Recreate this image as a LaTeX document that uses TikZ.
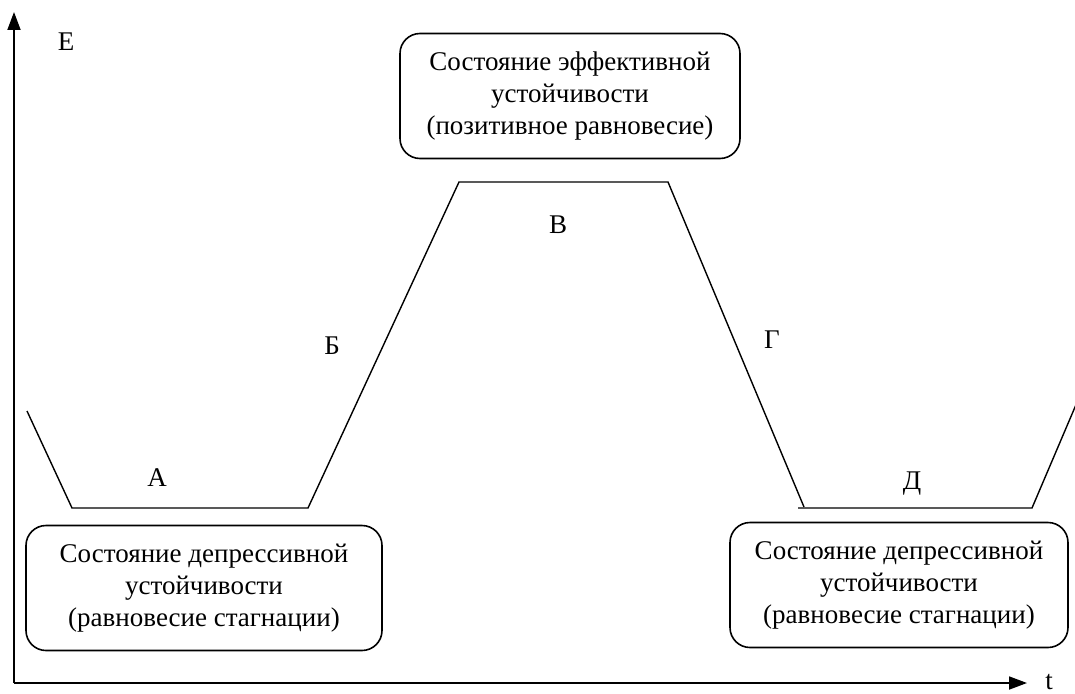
\documentclass[tikz,border=0pt]{standalone}
\usepackage{fontspec}
\setmainfont{Liberation Serif}
\usepackage{tikz}
\usetikzlibrary{
        arrows.meta,
        positioning,
        shapes
    }
\tikzset{>={Triangle[length=18pt,width=13pt]}}
\tikzset{statebox/.style={draw,line width=1.6pt,rounded corners=20pt,align=center,
        minimum height=125pt,inner sep=2pt,font=\fontsize{27}{32}\selectfont}}
\tikzset{lbl/.style={font=\fontsize{27}{30}\selectfont}}

\begin{document}
\begin{tikzpicture}[x=1pt,y=-1pt]
                \useasboundingbox (0,0) rectangle (1075,693);
                % axes
                \coordinate (o) at (14,683);
                \coordinate (ytop) at (14,12);
                \coordinate (xend) at (1027,683);
                \draw[->,line width=1.8pt] (o) -- (ytop);
                \draw[->,line width=1.8pt] (o) -- (xend);
                \node[lbl] (E) at (66,42) {E};
                \node[lbl,anchor=base,inner sep=0pt] (t) at (1049,689) {t};
                % curve
                \coordinate (a0) at (27,411);
                \coordinate (a1) at (72,508);
                \coordinate (a2) at (308,508);
                \coordinate (b1) at (459,182);
                \coordinate (b2) at (668,182);
                \coordinate (c1) at (804,507);
                \coordinate (d1) at (798,508);
                \coordinate (d2) at (1032,508);
                \coordinate (d3) at (1078,400);
                \draw[line width=1.4pt] (a0) -- (a1) -- (a2) -- (b1) -- (b2) -- (c1);
                \draw[line width=1.4pt] (d1) -- (d2) -- (d3);
                % labels
                \node[lbl] (A) at (157,478) {А};
                \node[lbl] (B) at (332,346) {Б};
                \node[lbl] (V) at (558,225) {В};
                \node[lbl] (G) at (772,340) {Г};
                \node[lbl] (D) at (912,484) {Д};
                % boxes
                \node[statebox,minimum width=340pt] (top) at (570,96)
                    {Состояние эффективной\\устойчивости\\ (позитивное равновесие)};
                \node[statebox,minimum width=356pt] (left) at (204,588)
                    {Состояние депрессивной\\устойчивости\\ (равновесие стагнации)};
                \node[statebox,minimum width=338pt] (right) at (899,585)
                    {Состояние депрессивной\\устойчивости\\ (равновесие стагнации)};
            \end{tikzpicture}
\end{document}
